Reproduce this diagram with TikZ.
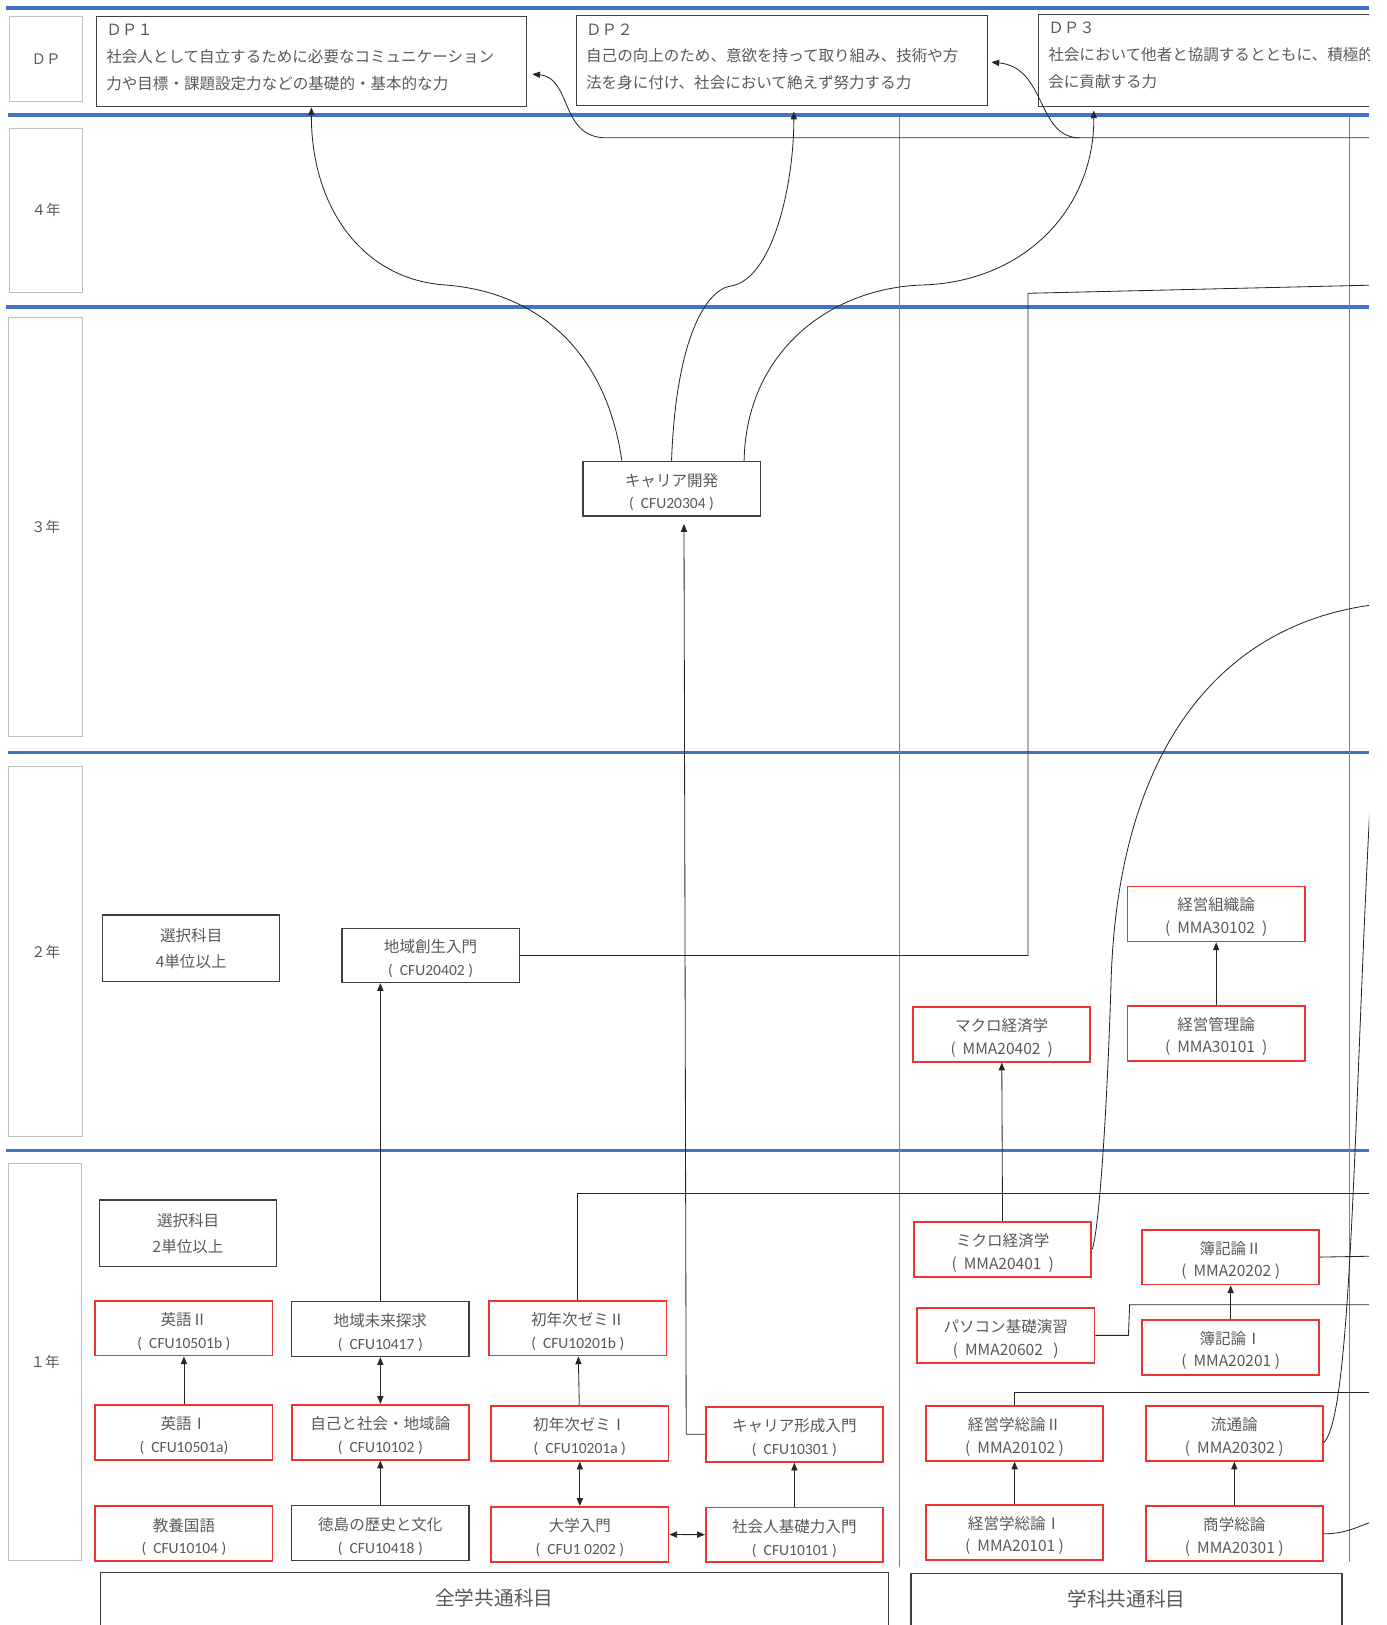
\documentclass[tikz,border=0pt]{standalone}
\usepackage{fontspec}
\setmainfont{Noto Sans CJK JP}
\newfontfamily\codefont{Carlito}
\usetikzlibrary{arrows.meta}

\definecolor{bandblue}{RGB}{68,114,196}
\definecolor{boxred}{RGB}{236,50,50}
\definecolor{textgray}{RGB}{89,89,89}
\definecolor{framegray}{RGB}{64,64,64}
\definecolor{yeargray}{RGB}{191,191,191}

\newcommand{\padtop}{\rule{0pt}{19pt}}
\newcommand{\cfu}[1]{{\codefont (\ \ CFU#1\ )}}
\newcommand{\mma}[1]{(\ \ MMA#1\ )}

\begin{document}
\begin{tikzpicture}[x=1pt, y=-1pt, >={Triangle[length=7.5pt,width=6pt]},
  every node/.style={text=textgray, inner sep=0pt},
  band/.style={bandblue, line width=3.5pt},
  divider/.style={bandblue!85, line width=0.9pt},
  yearbox/.style={draw=yeargray, line width=1pt, font=\fontsize{14}{16}\selectfont},
  course/.style={draw=framegray, line width=1.2pt, minimum width=171pt, minimum height=53pt, align=center, font=\fontsize{15}{22}\selectfont},
  redcourse/.style={course, draw=boxred, line width=1.7pt},
  choicebox/.style={course, minimum height=64pt, font=\fontsize{15}{25}\selectfont},
  dpbox/.style={draw=framegray, line width=1.2pt, minimum height=87pt},
  dptext/.style={anchor=north west, align=left, font=\fontsize{15}{26}\selectfont},
  catbox/.style={draw=framegray, line width=1.2pt, anchor=north, text height=32pt, text depth=48pt, font=\fontsize{19}{21}\selectfont},
  link/.style={black!85, line width=0.8pt}]
	\useasboundingbox (0,0) rectangle (1338,1568);
	\clip (0,0) rectangle (1321,1568);
	\foreach \y/\x in {8/6, 111/8, 296/6, 726/8, 1110/6}
		\draw[band] (\x,\y) -- (1321,\y);
	\draw[divider] (868,113) -- (868,1512);
	\draw[divider] (1302,113) -- (1302,1507);

	\node[yearbox, minimum width=71pt, minimum height=82pt] (ydp) at (44.5,57) {ＤＰ};
	\node[yearbox, minimum width=71pt, minimum height=158pt] (y4) at (44.5,203) {４年};
	\node[yearbox, minimum width=72pt, minimum height=405pt] (y3) at (44,508.5) {３年};
	\node[yearbox, minimum width=72pt, minimum height=357pt] (y2) at (44,918.5) {２年};
	\node[yearbox, minimum width=71pt, minimum height=383pt] (y1) at (43.5,1314.5) {１年};

	\node[dpbox, minimum width=415pt] (dp1) at (300.5,59.5) {};
	\node[dptext] (dp1t) at ([xshift=10pt,yshift=-8pt]dp1.north west) {ＤＰ１\\社会人として自立するために必要なコミュニケーション\\力や目標・課題設定力などの基礎的・基本的な力};
	\node[dpbox, minimum width=397pt] (dp2) at (754.5,58.5) {};
	\node[dptext] (dp2t) at ([xshift=10pt,yshift=-8pt]dp2.north west) {ＤＰ２\\自己の向上のため、意欲を持って取り組み、技術や方\\法を身に付け、社会において絶えず努力する力};
	\node[dpbox, minimum width=418pt, minimum height=89pt] (dp3) at (1211,58.5) {};
	\node[dptext] (dp3t) at ([xshift=10pt,yshift=-7.5pt]dp3.north west) {ＤＰ３\\社会において他者と協調するとともに、積極的に社\\会に貢献する力};

	\node[course] (kaihatsu) at (648,471.5) {\padtop キャリア開発\\\cfu{20304}};

	\node[choicebox] (sentaku2) at (184.5,915) {選択科目\\4単位以上};
	\node[course, minimum height=52pt] (chiiki_sosei) at (415.5,922) {\padtop 地域創生入門\\\cfu{20402}};
	\node[redcourse] (macro) at (966.5,998) {\padtop マクロ経済学\\\mma{20402\ }};
	\node[redcourse] (soshiki) at (1173.5,882) {\padtop 経営組織論\\\mma{30102\ }};
	\node[redcourse] (kanri) at (1173.5,997) {\padtop 経営管理論\\\mma{30101\ }};

	\node[choicebox] (sentaku1) at (181.5,1190) {選択科目\\2単位以上};
	\node[redcourse] (eigo2) at (177.5,1281.5) {\padtop 英語Ⅱ\\\cfu{10501b}};
	\node[course] (chiiki_mirai) at (367,1282.5) {\padtop 地域未来探求\\\cfu{10417}};
	\node[redcourse] (zemi2) at (557.5,1281.5) {\padtop 初年次ゼミⅡ\\\cfu{10201b}};
	\node[redcourse] (eigo1) at (177.5,1382) {\padtop 英語Ⅰ\\{\codefont (\ \ CFU10501a)}};
	\node[redcourse] (jiko) at (367,1382) {\padtop 自己と社会・地域論\\\cfu{10102}};
	\node[redcourse] (zemi1) at (559.5,1383) {\padtop 初年次ゼミⅠ\\\cfu{10201a}};
	\node[redcourse] (career_keisei) at (766.5,1384) {\padtop キャリア形成入門\\\cfu{10301}};
	\node[redcourse] (kyoyo) at (177.5,1480) {\padtop 教養国語\\\cfu{10104}};
	\node[course] (tokushima) at (367,1479.5) {\padtop 徳島の歴史と文化\\\cfu{10418}};
	\node[redcourse] (daigaku) at (559.5,1480.5) {\padtop 大学入門\\{\codefont (\ \ CFU1 0202\ )}};
	\node[redcourse] (shakaijin) at (766.5,1481) {\padtop 社会人基礎力入門\\\cfu{10101}};

	\node[redcourse] (micro) at (967.5,1205.5) {\padtop ミクロ経済学\\\mma{20401\ }};
	\node[redcourse] (boki2) at (1187.5,1213) {\padtop 簿記論Ⅱ\\\mma{20202}};
	\node[redcourse] (pc) at (970.5,1288.5) {\padtop パソコン基礎演習\\\mma{20602\ \ }};
	\node[redcourse] (boki1) at (1187.5,1300) {\padtop 簿記論Ⅰ\\\mma{20201}};
	\node[redcourse] (keiei2) at (979,1383) {\padtop 経営学総論Ⅱ\\\mma{20102}};
	\node[redcourse] (ryutsu) at (1191,1383) {\padtop 流通論\\\mma{20302}};
	\node[redcourse] (keiei1) at (979,1478.5) {\padtop 経営学総論Ⅰ\\\mma{20101}};
	\node[redcourse] (shogaku) at (1191,1480) {\padtop 商学総論\\\mma{20301}};

	\node[catbox, minimum width=760pt] (zengaku) at (477,1517) {全学共通科目};
	\node[catbox, minimum width=416pt] (gakka) at (1087,1518) {学科共通科目};

	\coordinate (dpfeed) at (1330,133);
	\coordinate (dpfork1) at (585,133);
	\coordinate (dpfork2) at (1042,133);
	\coordinate (sosei_up) at (992,283);
	\coordinate (sosei_out) at (1330,275);
	\coordinate (zemi_out) at (1330,1152);
	\coordinate (micro_out) at (1330,583);
	\coordinate (ryutsu_out) at (1327,690);
	\coordinate (shogaku_out) at (1330,1466);
	\coordinate (boki_out) at (1330,1212);
	\coordinate (pc_up) at (1090,1259);
	\coordinate (pc_out) at (1330,1259);
	\coordinate (keiei_out) at (1330,1344);

	\draw[link,->] ([xshift=-48pt]kaihatsu.north) .. controls (585,340) and (520,282) .. (430,275) .. controls (350,270) and (300,200) .. (dp1.south);
	\draw[link,->] (kaihatsu.north) .. controls (652,330) and (680,280) .. (705,276) .. controls (745,270) and (766,180) .. ([xshift=11.5pt,yshift=-5pt]dp2.south);
	\draw[link,->] ([xshift=70pt]kaihatsu.north) .. controls (720,340) and (800,278) .. (890,275) .. controls (990,272) and (1056,200) .. ([xshift=54pt,yshift=-3pt]dp3.south west);
	\draw[link,->] (dpfeed) -- (dpfork1) .. controls (540,133) and (552,75) .. ([xshift=5pt,yshift=-12pt]dp1.east);
	\draw[link,->] (dpfork2) .. controls (1000,133) and (1010,65) .. ([xshift=3pt,yshift=-1.5pt]dp2.east);

	\draw[link,->] (eigo1) -- (eigo2);
	\draw[link,<->] (chiiki_mirai) -- (jiko);
	\draw[link,->] (tokushima) -- (jiko);
	\draw[link,->] (zemi1) -- (zemi2);
	\draw[link,<->] (daigaku) -- (zemi1);
	\draw[link,<->] (daigaku) -- (shakaijin);
	\draw[link,->] (shakaijin) -- (career_keisei);
	\draw[link,->] (career_keisei.west) -- ++(-18,0) -- ([xshift=12pt,yshift=-7pt]kaihatsu.south);
	\draw[link,->] (chiiki_mirai.north) -- (chiiki_mirai.north |- chiiki_sosei.south);
	\draw[link] (chiiki_sosei.east) -| (sosei_up) -- (sosei_out);
	\draw[link] (zemi2.north) -- (zemi2.north |- zemi_out) -- (zemi_out);

	\draw[link,->] (micro) -- (macro);
	\draw[link,->] (kanri) -- (soshiki);
	\draw[link,->] (boki1) -- (boki2);
	\draw[link,->] (keiei1) -- (keiei2);
	\draw[link,->] (shogaku) -- (ryutsu);
	\draw[link] (micro.east) .. controls (1060,1190) and (1068,1080) .. (1072,950) .. controls (1078,720) and (1180,600) .. (micro_out);
	\draw[link] ([yshift=-9pt]ryutsu.east) .. controls (1295,1375) and (1302,1250) .. (1310,1050) .. controls (1316,900) and (1320,800) .. (ryutsu_out);
	\draw[link] (shogaku.east) .. controls (1300,1480) and (1312,1472) .. (shogaku_out);
	\draw[link] (boki2.east) -- (boki_out);
	\draw[link] (pc.east) -- ++(32,0) -- (pc_up) -- (pc_out);
	\draw[link] (keiei2.north) -- (keiei2.north |- keiei_out) -- (keiei_out);
\end{tikzpicture}
\end{document}
